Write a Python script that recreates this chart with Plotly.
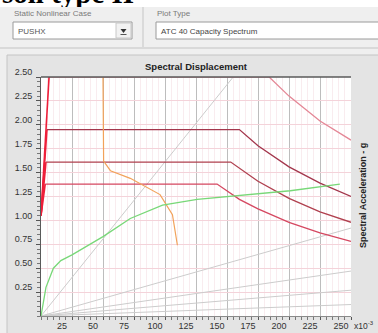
import plotly.graph_objects as go

# ---------------- data ----------------
x_ticks = [25, 50, 75, 100, 125, 150, 175, 200, 225, 250]
y_ticks = [0.25, 0.5, 0.75, 1.0, 1.25, 1.5, 1.75, 2.0, 2.25, 2.5]

# capacity curve (green)
cap_sd = [0, 4, 10, 16, 25, 50, 72, 98, 126, 169, 201, 241]
cap_sa = [0, 0.30, 0.50, 0.58, 0.64, 0.83, 1.02, 1.16, 1.22, 1.27, 1.31, 1.38]

# demand spectra for several damping ratios
d1_sd = [0, 6.5, 184, 200, 225, 250]
d1_sa = [1.05, 2.5, 2.5, 2.30, 2.04, 1.84]
d2_sd = [0, 4.8, 160, 175, 200, 225, 250]
d2_sa = [1.05, 1.95, 1.95, 1.78, 1.56, 1.39, 1.25]
d3_sd = [0, 4.0, 153, 175, 200, 225, 250]
d3_sa = [1.05, 1.61, 1.61, 1.41, 1.23, 1.09, 0.98]
d4_sd = [0, 3.4, 142, 160, 175, 200, 225, 250]
d4_sa = [1.05, 1.38, 1.38, 1.22, 1.12, 0.98, 0.87, 0.78]

# single demand spectrum (variable damping, orange)
sds_sd = [50, 50.5, 56, 72, 96, 106, 110]
sds_sa = [2.5, 1.62, 1.52, 1.44, 1.27, 1.06, 0.74]

# constant-period lines: end points (start at origin)
per_sd = [155, 250, 250, 250, 250]
per_sa = [2.5, 0.92, 0.47, 0.27, 0.12]

# ---------------- figure ----------------
W, H = 378, 333
L, R, T, B = 41, 27, 77, 17
PW, PH = W - L - R, H - T - B


def px(x):
    return (x - L) / PW


def py(y):
    return (H - B - y) / PH


fig = go.Figure()

# period lines
for sd, sa in zip(per_sd, per_sa):
    fig.add_trace(go.Scatter(x=[0, sd], y=[0, sa], mode="lines",
                             line=dict(color="#cccccc", width=1), hoverinfo="skip"))

spectra = [
    (d1_sd, d1_sa, "#e48796"),
    (d2_sd, d2_sa, "#a3364c"),
    (d3_sd, d3_sa, "#b0404f"),
    (d4_sd, d4_sa, "#d54760"),
]
for sd, sa, col in spectra:
    fig.add_trace(go.Scatter(x=sd[1:], y=sa[1:], mode="lines",
                             line=dict(color=col, width=1.3), hoverinfo="skip"))
for sd, sa, col in spectra:
    fig.add_trace(go.Scatter(x=sd[:2], y=sa[:2], mode="lines",
                             line=dict(color="#ee1f3a", width=1.6), hoverinfo="skip"))

fig.add_trace(go.Scatter(x=sds_sd, y=sds_sa, mode="lines",
                         line=dict(color="#f2a25a", width=1.2), hoverinfo="skip"))
fig.add_trace(go.Scatter(x=cap_sd, y=cap_sa, mode="lines",
                         line=dict(color="#78d878", width=1.3), hoverinfo="skip"))

shapes = [
    # white document strip on top
    dict(type="rect", xref="paper", yref="paper", x0=px(0), x1=px(W), y0=py(0), y1=py(7),
         fillcolor="white", line=dict(width=0), layer="below"),
    # chart panel
    dict(type="rect", xref="paper", yref="paper", x0=px(7), x1=px(W + 2), y0=py(55), y1=py(H + 2),
         fillcolor="#e4e4e4", line=dict(color="#c4c4c4", width=1), layer="below"),
    # separators
    dict(type="line", xref="paper", yref="paper", x0=px(0), x1=px(W), y0=py(48), y1=py(48),
         line=dict(color="#d2d2d2", width=1.5)),
    dict(type="line", xref="paper", yref="paper", x0=px(143), x1=px(143), y0=py(7), y1=py(47),
         line=dict(color="#dadada", width=2)),
    # dropdown box
    dict(type="rect", xref="paper", yref="paper", x0=px(13), x1=px(132), y0=py(22), y1=py(39),
         fillcolor="white", line=dict(color="#9a9a9a", width=1)),
    dict(type="rect", xref="paper", yref="paper", x0=px(116), x1=px(131), y0=py(23), y1=py(38),
         fillcolor="#f2f2f2", line=dict(color="#c8c8c8", width=1)),
    dict(type="path", xref="paper", yref="paper",
         path=f"M {px(120.5)} {py(29)} L {px(126.5)} {py(29)} L {px(123.5)} {py(33)} Z",
         fillcolor="#333333", line=dict(width=0)),
    dict(type="line", xref="paper", yref="paper", x0=px(120.5), x1=px(126.5), y0=py(34.5), y1=py(34.5),
         line=dict(color="#555555", width=1)),
    # plot type box
    dict(type="rect", xref="paper", yref="paper", x0=px(156), x1=px(W + 3), y0=py(22), y1=py(39),
         fillcolor="white", line=dict(color="#9a9a9a", width=1)),
    # plot area background and frame
    dict(type="rect", xref="paper", yref="paper", x0=0, x1=1, y0=0, y1=1,
         fillcolor="white", line=dict(width=0), layer="below"),
    dict(type="line", xref="paper", yref="paper", x0=0, x1=1, y0=1, y1=1,
         line=dict(color="#5a5a5a", width=1.5)),
]

ann = [
    dict(text="<b>soil type II</b>", x=px(0), y=py(-7), xanchor="left", yanchor="middle",
         font=dict(family="Liberation Serif", size=29, color="black")),
    dict(text=" ", x=px(0), y=py(7), xanchor="left", yanchor="top", width=140, height=8,
         bgcolor="#efefef", borderpad=0, borderwidth=0),
    dict(text="Static Nonlinear Case", x=px(12), y=py(13.5), xanchor="left", yanchor="middle",
         font=dict(family="Liberation Sans", size=8, color="#7a7a7a")),
    dict(text="Plot Type", x=px(155), y=py(13.5), xanchor="left", yanchor="middle",
         font=dict(family="Liberation Sans", size=8, color="#7a7a7a")),
    dict(text="PUSHX", x=px(16), y=py(31), xanchor="left", yanchor="middle",
         font=dict(family="Liberation Sans", size=8, color="#555555")),
    dict(text="ATC 40 Capacity Spectrum", x=px(159), y=py(31), xanchor="left", yanchor="middle",
         font=dict(family="Liberation Sans", size=8, color="#444444")),
    dict(text="<b>Spectral Displacement</b>", x=px(196), y=py(66), xanchor="center", yanchor="middle",
         font=dict(family="Liberation Sans", size=9.5, color="#222222")),
    dict(text="<b>Spectral Acceleration - g</b>", x=px(363), y=py(196), xanchor="center",
         yanchor="middle", textangle=-90,
         font=dict(family="Liberation Sans", size=9, color="#222222")),
    dict(text="x10<sup>-3</sup>", x=px(364), y=py(325), xanchor="center", yanchor="middle",
         font=dict(family="Liberation Sans", size=8.5, color="#333333")),
]
for a in ann:
    a.update(xref="paper", yref="paper", showarrow=False)

fig.update_layout(
    width=W, height=H,
    margin=dict(l=L, r=R, t=T, b=B, autoexpand=False),
    paper_bgcolor="#efefef", plot_bgcolor="white",
    showlegend=False,
    shapes=shapes, annotations=ann,
    xaxis=dict(range=[0, 250], tickvals=x_ticks, showgrid=True, gridcolor="#bdbdbd", gridwidth=1,
               zeroline=False, showline=True, linecolor="#8a8a8a", linewidth=1,
               ticks="outside", ticklen=3, tickcolor="#555555",
               minor=dict(dtick=5, ticks="outside", ticklen=3, tickcolor="#777777",
                          showgrid=True, gridcolor="#f9ecef"),
               tickfont=dict(family="Liberation Sans", size=9, color="#333333"),
               ticklabelshift=-10, ticklabelstandoff=-2, automargin=False, fixedrange=True),
    yaxis=dict(range=[0, 2.5], tickvals=y_ticks, tickformat=".2f", showgrid=True,
               gridcolor="#f4d3da", gridwidth=1, zeroline=False,
               showline=True, linecolor="#5a5a5a", linewidth=1,
               ticks="outside", ticklen=4, tickcolor="#555555",
               minor=dict(dtick=0.05, ticks="outside", ticklen=3, tickcolor="#777777"),
               tickfont=dict(family="Liberation Sans", size=9, color="#333333"),
               ticklabelshift=-5, ticklabelstandoff=2, automargin=False, fixedrange=True),
)

fig.write_html("out.html", config={"displayModeBar": False},
               post_script="document.body.style.margin='0';")
